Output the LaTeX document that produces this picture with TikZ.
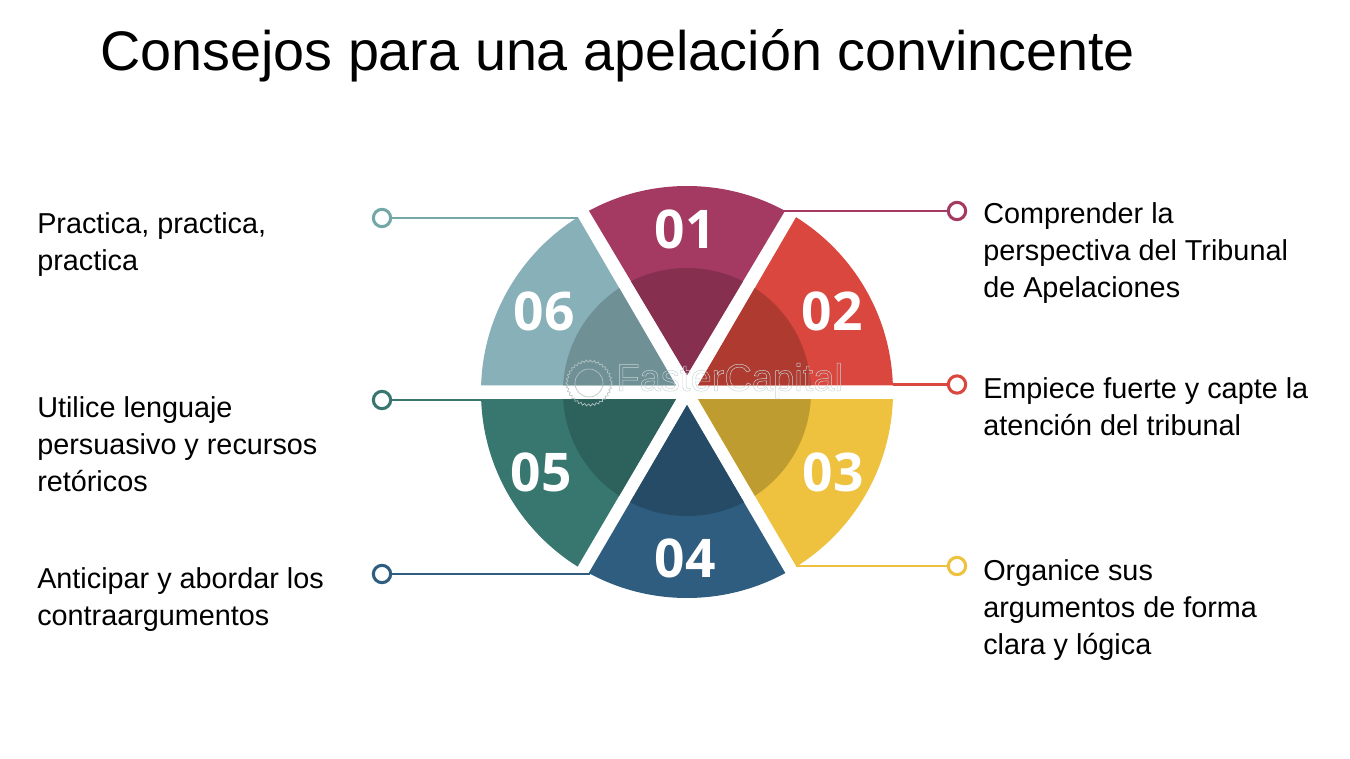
\documentclass[tikz,border=0pt]{standalone}
\usepackage{fontspec}
\setmainfont{Liberation Sans}
\newfontfamily\numfont{Open Sans}
\usetikzlibrary{decorations.pathmorphing}
\definecolor{cA}{HTML}{A43A61}\definecolor{iA}{HTML}{862F4F}
\definecolor{cB}{HTML}{D9473E}\definecolor{iB}{HTML}{AE3A30}
\definecolor{cC}{HTML}{EEC13E}\definecolor{iC}{HTML}{BF9C30}
\definecolor{cD}{HTML}{2F5D7F}\definecolor{iD}{HTML}{254B66}
\definecolor{cE}{HTML}{38776F}\definecolor{iE}{HTML}{2C615C}
\definecolor{cF}{HTML}{87B0B8}\definecolor{iF}{HTML}{6F9095}
\definecolor{lF}{HTML}{74A8A8}
\definecolor{wm}{HTML}{B4C4C4}
\tikzset{
  x=0.75pt,y=-0.75pt,
  label text/.style={anchor=north west,inner sep=0pt,align=left,font=\fontsize{21.6pt}{27.75pt}\selectfont,text=black},
  title text/.style={anchor=west,inner sep=0pt,font=\fontsize{41.8pt}{50pt}\selectfont,text=black},
  num/.style={inner sep=0pt,text=white,font=\fontsize{40pt}{46pt}\numfont\bfseries},
  ring/.style={circle,draw=#1,line width=2.3pt,fill=white,minimum size=13pt,inner sep=0pt},
  lead/.style={draw=#1,line width=2.2pt},
}
\newcommand{\piewedge}[3]{%
  \begin{scope}
    \clip #1;
    \fill[#2] (687,392) circle[radius=206];
    \fill[#3] (687,392) circle[radius=124];
  \end{scope}}
\begin{document}
\begin{tikzpicture}
\useasboundingbox (0,0) rectangle (1350,759);
\fill[white] (0,0) rectangle (1350,759);

\node[title text] (title) at (100,56) {Consejos para una apelación convincente};

\piewedge{(687,375) -- (570,179) -- (804,179) -- cycle}{cA}{iA}
\piewedge{(698,385.5) -- (816,183) -- (950,183) -- (950,385.5) -- cycle}{cB}{iB}
\piewedge{(698,399) -- (950,399) -- (950,600) -- (816,600) -- cycle}{cC}{iC}
\piewedge{(687,405) -- (570,605) -- (804,605) -- cycle}{cD}{iD}
\piewedge{(676,399) -- (424,399) -- (424,600) -- (558,600) -- cycle}{cE}{iE}
\piewedge{(676,385.5) -- (558,183) -- (424,183) -- (424,385.5) -- cycle}{cF}{iF}

\coordinate (pA) at (783,211);
\coordinate (pB) at (893,384.5);
\coordinate (pC) at (796,566);
\coordinate (pD) at (590,574);
\coordinate (pE) at (481,400);
\coordinate (pF) at (578,218);

\node[ring=cA] (rA) at (957,211) {};
\node[ring=cB] (rB) at (957,384.5) {};
\node[ring=cC] (rC) at (957,566) {};
\node[ring=cD] (rD) at (382,574) {};
\node[ring=cE] (rE) at (382,400) {};
\node[ring=lF] (rF) at (382,218) {};

\draw[lead=cA] (rA) -- (pA);
\draw[lead=cB] (rB) -- (pB);
\draw[lead=cC] (rC) -- (pC);
\draw[lead=cD] (rD) -- (pD);
\draw[lead=cE] (rE) -- (pE);
\draw[lead=lF] (rF) -- (pF);

\node[num] (n1) at (685,229) {01};
\node[num] (n2) at (832,311) {02};
\node[num] (n3) at (833,472) {03};
\node[num] (n4) at (685,558) {04};
\node[num] (n5) at (541,472) {05};
\node[num] (n6) at (544,311) {06};

\node[label text] (tA) at (983,202) {Comprender la\\perspectiva del Tribunal\\de Apelaciones};
\node[label text] (tB) at (983,377) {Empiece fuerte y capte la\\atención del tribunal};
\node[label text] (tC) at (983,559) {Organice sus\\argumentos de forma\\clara y lógica};
\node[label text] (tD) at (37,567) {Anticipar y abordar los\\contraargumentos};
\node[label text] (tE) at (37,396) {Utilice lenguaje\\persuasivo y recursos\\retóricos};
\node[label text] (tF) at (37,212) {Practica, practica,\\practica};

\node[inner sep=0pt,anchor=west,font=\fontsize{28.6pt}{34pt}\selectfont] (wmark) at (616,381) {\special{pdf:code 1 Tr 0.35 w 0.78 0.83 0.83 RG}FasterCapital\special{pdf:code 0 Tr}};
\draw[wm,line width=0.5pt,decorate,decoration={zigzag,segment length=3pt,amplitude=0.8pt}] (589,383) circle[radius=22];
\draw[wm,line width=0.5pt] (589,383) circle[radius=14];
\end{tikzpicture}
\end{document}
